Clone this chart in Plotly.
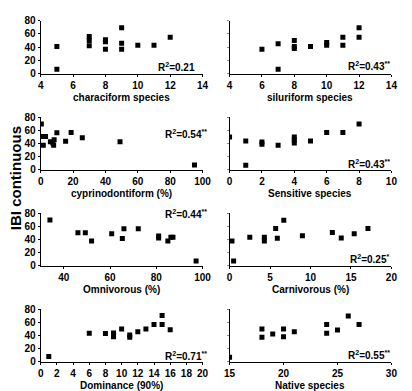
import plotly.graph_objects as go

# ---- data ----
charac_x = [5, 5, 7, 7, 7, 8, 8, 8, 9, 9, 9, 10, 11, 12]
charac_y = [41, 7, 56, 50, 42, 51, 48, 37, 69, 46, 37, 43, 43, 55]

silur_x = [6, 7, 7, 8, 8, 8, 9, 10, 10, 11, 11, 12, 12]
silur_y = [37, 45, 7, 50, 41, 38, 41, 47, 43, 55, 43, 69, 55]

cypr_x = [0.4, 1.6, 1, 3, 6, 7.5, 8, 8.3, 10, 15.4, 18.8, 25.7, 49, 95]
cypr_y = [70, 37.5, 51, 51, 43, 41, 37.5, 46, 56.8, 43.5, 57, 49, 43, 7.4]

sens_x = [0, 1, 1, 2, 2, 3, 4, 4, 4, 5, 6, 7, 8]
sens_y = [50, 44, 7, 42.5, 39, 37.5, 50, 46, 41, 44, 57, 57, 70]

omni_x = [34, 46.1, 49.3, 52, 60.7, 65.3, 66, 72.2, 81, 81, 85, 86.3, 87.2, 97.2]
omni_y = [70, 50.5, 50.5, 38, 49, 41.7, 56.4, 56.4, 45.6, 42.6, 38, 43.6, 43.6, 7.4]

carn_x = [0.3, 0.5, 2.5, 4.3, 4.3, 5.7, 5.9, 6.7, 9, 12.7, 13.8, 15.4, 17.1]
carn_y = [38, 7.4, 43.5, 43.5, 38, 56.8, 42, 69.6, 46, 51, 42.5, 49, 56.8]

dom_x = [1, 6, 8, 9, 9, 9, 10, 11, 11, 12, 13, 14, 15, 15, 16]
dom_y = [8, 43.5, 43, 44, 41, 38, 50, 41, 37.5, 46, 50, 57, 70.6, 57, 49]

nat_x = [15, 18, 18, 19, 20, 20, 21, 24, 24, 25, 26, 27]
nat_y = [7, 50, 37.5, 42.5, 50, 38, 46, 56.8, 43.5, 48.6, 70, 56.8]

x_titles = ["characiform species", "siluriform species", "cyprinodontiform (%)",
            "Sensitive species", "Omnivorous (%)", "Carnivorous (%)",
            "Dominance (90%)", "Native species"]
r2_labels = ["R<sup>2</sup>=0.21", "R<sup>2</sup>=0.43<sup>**</sup>",
             "R<sup>2</sup>=0.54<sup>**</sup>", "R<sup>2</sup>=0.43<sup>**</sup>",
             "R<sup>2</sup>=0.44<sup>**</sup>", "R<sup>2</sup>=0.25<sup>*</sup>",
             "R<sup>2</sup>=0.71<sup>**</sup>", "R<sup>2</sup>=0.55<sup>**</sup>"]
x_ranges = [[4, 14], [4, 14], [0, 100], [0, 10], [30, 100], [0, 20], [0, 20], [15, 30]]
x_tick_lists = [
    [4, 6, 8, 10, 12, 14],
    [4, 6, 8, 10, 12, 14],
    [0, 20, 40, 60, 80, 100],
    [0, 2, 4, 6, 8, 10],
    [40, 60, 80, 100],
    [0, 5, 10, 15, 20],
    [0, 2, 4, 6, 8, 10, 12, 14, 16, 18, 20],
    [15, 20, 25, 30],
]
y_ticks = [0, 20, 40, 60, 80]

series = [(charac_x, charac_y), (silur_x, silur_y), (cypr_x, cypr_y), (sens_x, sens_y),
          (omni_x, omni_y), (carn_x, carn_y), (dom_x, dom_y), (nat_x, nat_y)]

# ---- layout geometry (pixels) ----
W, H = 412, 391
col_px = [(36, 204), (232, 400)]
row_px = [(15, 70), (115, 169), (214, 268), (313, 367)]
r2_pos = [(177, 63), (377, 62), (187, 132), (377, 163), (187, 215), (377, 261), (187, 361), (377, 360)]

FONT = "Liberation Sans, Arial, sans-serif"
fig = go.Figure()
annotations = []
for i, (xs, ys) in enumerate(series):
    r, c = divmod(i, 2)
    n = i + 1
    xa = "x" if n == 1 else f"x{n}"
    ya = "y" if n == 1 else f"y{n}"
    fig.add_trace(go.Scatter(x=xs, y=ys, mode="markers", xaxis=xa, yaxis=ya,
                             marker=dict(symbol="square", size=5, color="black"),
                             showlegend=False))
    x0, x1 = col_px[c]
    y0, y1 = row_px[r]
    xd = [x0 / W, x1 / W]
    yd = [1 - y1 / H, 1 - y0 / H]
    key = "" if n == 1 else str(n)
    xt = x_tick_lists[i]
    fig.layout["xaxis" + key] = dict(
        domain=xd, anchor=ya, range=x_ranges[i],
        tickvals=xt, ticktext=[f"<b>{v}</b>" for v in xt],
        showline=True, linecolor="black", linewidth=1, ticks="outside", ticklen=2,
        tickcolor="black", showgrid=False, zeroline=False,
        tickfont=dict(family=FONT, size=10, color="black"))
    fig.layout["yaxis" + key] = dict(
        domain=yd, anchor=xa, range=[0, 80],
        tickvals=y_ticks, ticktext=[f"<b>{v}</b>" for v in y_ticks],
        showticklabels=(c == 0),
        showline=True, linecolor="black", linewidth=1, ticks="outside", ticklen=2,
        tickcolor="black" if c == 0 else "#888", showgrid=False, zeroline=False,
        tickfont=dict(family=FONT, size=10, color="black"))
    annotations.append(dict(text="<b>" + x_titles[i] + "</b>", xref="paper", yref="paper",
                            x=(x0 + x1) / 2 / W, y=1 - (y1 + 24) / H,
                            showarrow=False, xanchor="center", yanchor="middle",
                            font=dict(family=FONT, size=10, color="black")))
    px_, py_ = r2_pos[i]
    annotations.append(dict(text="<b>" + r2_labels[i] + "</b>", xref="paper", yref="paper",
                            x=px_ / W, y=1 - py_ / H, showarrow=False,
                            xanchor="center", yanchor="middle",
                            font=dict(family=FONT, size=10, color="black")))

annotations.append(dict(text="<b>IBI continuous</b>", xref="paper", yref="paper",
                        x=10 / W, y=1 - 178 / H, showarrow=False, textangle=-90,
                        xanchor="center", yanchor="middle",
                        font=dict(family=FONT, size=15, color="black")))

fig.update_layout(width=W, height=H, margin=dict(l=0, r=0, t=0, b=0),
                  paper_bgcolor="white", plot_bgcolor="white",
                  annotations=annotations)
fig.write_html("out.html")
